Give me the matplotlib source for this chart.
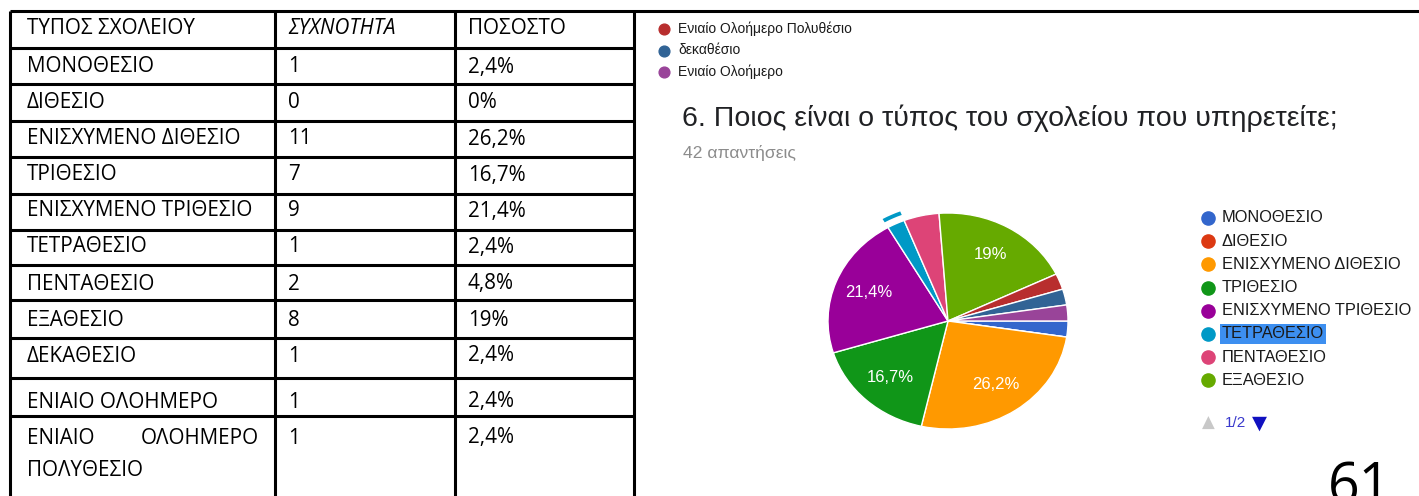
import matplotlib
matplotlib.use("Agg")
import matplotlib.pyplot as plt

# table typed in the document
headers = ["ΤΥΠΟΣ ΣΧΟΛΕΙΟΥ", "ΣΥΧΝΟΤΗΤΑ", "ΠΟΣΟΣΤΟ"]
school_types = ["ΜΟΝΟΘΕΣΙΟ", "ΔΙΘΕΣΙΟ", "ΕΝΙΣΧΥΜΕΝΟ ΔΙΘΕΣΙΟ", "ΤΡΙΘΕΣΙΟ",
                "ΕΝΙΣΧΥΜΕΝΟ ΤΡΙΘΕΣΙΟ", "ΤΕΤΡΑΘΕΣΙΟ", "ΠΕΝΤΑΘΕΣΙΟ", "ΕΞΑΘΕΣΙΟ",
                "ΔΕΚΑΘΕΣΙΟ", "ΕΝΙΑΙΟ ΟΛΟΗΜΕΡΟ", "ΕΝΙΑΙΟ ΟΛΟΗΜΕΡΟ ΠΟΛΥΘΕΣΙΟ"]
frequencies = [1, 0, 11, 7, 9, 1, 2, 8, 1, 1, 1]
percentages = ["2,4%", "0%", "26,2%", "16,7%", "21,4%", "2,4%", "4,8%", "19%",
               "2,4%", "2,4%", "2,4%"]

# google forms answers, in form order
question = "6. Ποιος είναι ο τύπος του σχολείου που υπηρετείτε;"
answers_text = "42 απαντήσεις"
form_labels = ["ΜΟΝΟΘΕΣΙΟ", "ΔΙΘΕΣΙΟ", "ΕΝΙΣΧΥΜΕΝΟ ΔΙΘΕΣΙΟ", "ΤΡΙΘΕΣΙΟ",
               "ΕΝΙΣΧΥΜΕΝΟ ΤΡΙΘΕΣΙΟ", "ΤΕΤΡΑΘΕΣΙΟ", "ΠΕΝΤΑΘΕΣΙΟ", "ΕΞΑΘΕΣΙΟ",
               "Ενιαίο Ολοήμερο Πολυθέσιο", "δεκαθέσιο", "Ενιαίο Ολοήμερο"]
form_counts = [1, 0, 11, 7, 9, 1, 2, 8, 1, 1, 1]
form_colors = ["#3366cc", "#dc3912", "#ff9900", "#109618", "#990099", "#0099c6",
               "#dd4477", "#66aa00", "#b82e2e", "#316395", "#994499"]
selected = "ΤΕΤΡΑΘΕΣΙΟ"
page_no = "61"

W, H = 1419, 496
TFONT = ["Open Sans", "DejaVu Sans"]
GFONT = ["Liberation Sans", "DejaVu Sans"]

fig = plt.figure(figsize=(W / 100, H / 100), dpi=100)
ax = fig.add_axes([0, 0, 1, 1])
ax.set_xlim(0, W)
ax.set_ylim(H, 0)
ax.axis("off")

# ---- table ----
LW = 2.2
col_x = [10, 275, 455, 634]
row_y = [11, 48, 84, 121, 157, 194, 230, 265, 300, 338, 378, 416]
text_off = [18, 19, 19, 18, 18, 17, 17, 19, 20, 18, 24, 22]
ax.plot([10, W], [row_y[0], row_y[0]], color="black", lw=LW, solid_capstyle="butt")
for y in row_y[1:]:
    ax.plot([col_x[0], col_x[-1]], [y, y], color="black", lw=LW, solid_capstyle="butt")
for x in col_x:
    ax.plot([x, x], [row_y[0], H], color="black", lw=LW, solid_capstyle="butt")

tx = [27, 288, 468]
ts = 14.9
for j, h in enumerate(headers):
    ax.text(tx[j], row_y[0] + text_off[0], h, fontsize=ts, family=TFONT, va="center",
            style="italic" if j == 1 else "normal")
for i, name in enumerate(school_types):
    ty = row_y[i + 1] + text_off[i + 1]
    if i == len(school_types) - 1:
        first, second, third = name.split(" ")
        ax.text(tx[0], ty, first, fontsize=ts, family=TFONT, va="center")
        ax.text(259, ty, second, fontsize=ts, family=TFONT, va="center", ha="right")
        ax.text(tx[0], ty + 33, third, fontsize=ts, family=TFONT, va="center")
    else:
        ax.text(tx[0], ty, name, fontsize=ts, family=TFONT, va="center")
    ax.text(tx[1], ty, str(frequencies[i]), fontsize=ts, family=TFONT, va="center")
    ax.text(tx[2], ty, percentages[i], fontsize=ts, family=TFONT, va="center")

# ---- google forms screenshot ----
for k, lab in enumerate(form_labels[8:]):
    y = 29 + k * 21.5
    ax.scatter(664, y, s=60, color=form_colors[8 + k], zorder=3)
    ax.text(678, y, lab, fontsize=10, family=GFONT, va="center", color="#1a1a1a")

ax.text(682, 118, question, fontsize=20.5, family=GFONT, va="center", color="#202124")
ax.text(683, 153, answers_text, fontsize=12.6, family=GFONT, va="center", color="#8c8c8c")

for k, lab in enumerate(form_labels[:8]):
    y = 218 + k * 23.2
    ax.scatter(1208, y, s=90, color=form_colors[k], zorder=3)
    box = dict(facecolor="#3d8ff0", edgecolor="none", pad=1.5) if lab == selected else None
    ax.text(1222, y, lab, fontsize=11.8, family=GFONT, va="center", color="#1a1a1a", bbox=box)

ax.text(1208, 423, "▲", fontsize=12, family="DejaVu Sans", va="center", ha="center", color="#c8c8c8")
ax.text(1225, 423, "1/2", fontsize=11, family=GFONT, va="center", color="#3a3acc")
ax.text(1259, 423, "▼", fontsize=14, family="DejaVu Sans", va="center", ha="center", color="#1010c0")

# page number, cut by the bottom edge as in the scan
ax.text(1328, 503, page_no, fontsize=40, family=TFONT, va="baseline", color="black")

# pie: centre (948, 321) px, radii 120 x 108 px
cx, cy, rx, ry = 948, 321, 120, 108
pax = fig.add_axes([(cx - 1.2 * rx) / W, 1 - (cy + 1.2 * ry) / H, 2.4 * rx / W, 2.4 * ry / H])


def pct_label(p):
    if p < 10:
        return ""
    s = f"{p:.1f}".rstrip("0").rstrip(".")
    return s.replace(".", ",") + "%"


pax.pie(form_counts, colors=form_colors, startangle=0, counterclock=False,
        autopct=pct_label, pctdistance=0.71,
        wedgeprops=dict(edgecolor="white", linewidth=1),
        textprops=dict(color="white", fontsize=12, family=GFONT))
ring_colors = [c if l == selected else "none" for l, c in zip(form_labels, form_colors)]
pax.pie(form_counts, colors=ring_colors, radius=1.09, startangle=0, counterclock=False,
        wedgeprops=dict(width=0.035, edgecolor="none"))
pax.set_xlim(-1.2, 1.2)
pax.set_ylim(-1.2, 1.2)
pax.set_aspect("auto")

fig.savefig("out.png", dpi=100)
